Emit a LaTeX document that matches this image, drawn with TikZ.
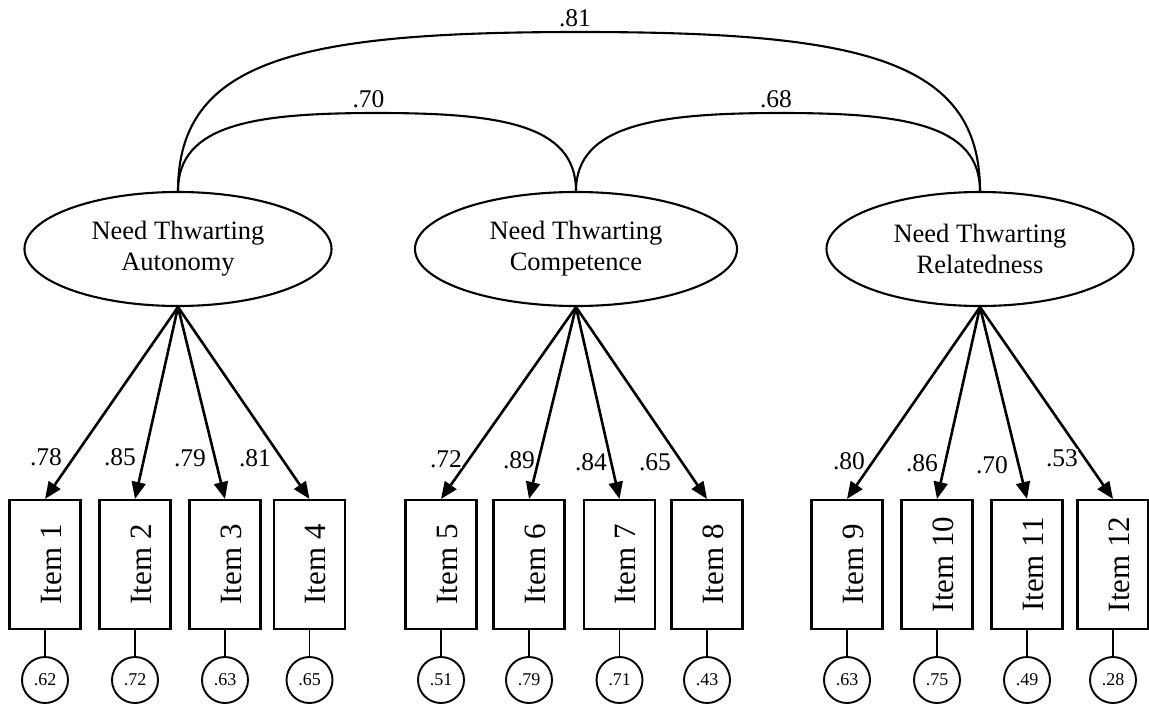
\documentclass[tikz,border=0pt]{standalone}
\usepackage{fontspec}
\setmainfont{Liberation Serif}
\usetikzlibrary{arrows.meta,shapes.geometric}
\begin{document}
\begin{tikzpicture}[x=1pt,y=-1pt,
 latent/.style={ellipse,draw,line width=2.1pt,inner sep=0pt,minimum height=114pt,align=center,font=\fontsize{26.5pt}{31pt}\selectfont},
 itembox/.style={rectangle,draw,line width=2.1pt,minimum width=71pt,minimum height=129pt,inner sep=0pt},
 itemlbl/.style={rotate=90,inner sep=0pt,font=\fontsize{31pt}{36pt}\selectfont},
 err/.style={circle,draw,line width=1.9pt,minimum size=46pt,inner sep=0pt,font=\fontsize{18pt}{21pt}\selectfont},
 load/.style={-{Triangle[length=17pt,width=14pt]},line width=2.6pt},
 lbl/.style={anchor=base,inner sep=0.5pt,fill=white,font=\fontsize{25.5pt}{30pt}\selectfont},
 cov/.style={line width=2.1pt},
 res/.style={line width=1.9pt}
]
\useasboundingbox (0,0) rectangle (1149,707);

% latent factors
\node[latent,minimum width=307pt] (A) at (178,249) {Need Thwarting\\Autonomy};
\node[latent,minimum width=322pt] (C) at (576,249) {Need Thwarting\\Competence};
\node[latent,minimum width=307pt] (R) at (980,249) {Need Thwarting\\Relatedness};

% covariance arcs
\coordinate (p81) at (580,32);
\coordinate (p70) at (377,113);
\coordinate (p68) at (781,113);
\draw[cov] (A.north) .. controls +(0,-132) and +(-280,0) .. (p81) .. controls +(280,0) and +(0,-132) .. (R.north);
\draw[cov] (A.north) .. controls +(0,-67) and +(-122,0) .. (p70) .. controls +(122,0) and +(0,-67) .. (C.north);
\draw[cov] (C.north) .. controls +(0,-67) and +(-122,0) .. (p68) .. controls +(122,0) and +(0,-67) .. (R.north);
\node[lbl] (c81) at (575,26) {.81};
\node[lbl] (c70) at (368.5,107) {.70};
\node[lbl] (c68) at (776,107) {.68};

% items, error circles, loadings
\foreach \i/\x/\f/\e/\l/\lx/\ly in {
  1/45/A/.62/.78/46/465,
  2/135/A/.72/.85/120/465,
  3/225/A/.63/.79/190/466.5,
  4/309.5/A/.65/.81/255/466,
  5/441/C/.51/.72/446/467,
  6/529/C/.79/.89/519/468,
  7/619.5/C/.71/.84/591/470,
  8/707/C/.43/.65/655/470,
  9/847/R/.63/.80/849/469,
  10/937/R/.75/.86/922/471.5,
  11/1027/R/.49/.70/992/473,
  12/1113/R/.28/.53/1062/466}{
  \node[itembox] (b\i) at (\x,564.5) {};
  \node[itemlbl] (t\i) at ([xshift=6pt]b\i.center) {Item \i};
  \node[err] (e\i) at (\x,680) {\e};
  \draw[res] (b\i.south) -- (e\i.north);
  \draw[load] (\f.south) -- (b\i.north);
  \node[lbl] (w\i) at (\lx,\ly) {\l};
}
\end{tikzpicture}
\end{document}
